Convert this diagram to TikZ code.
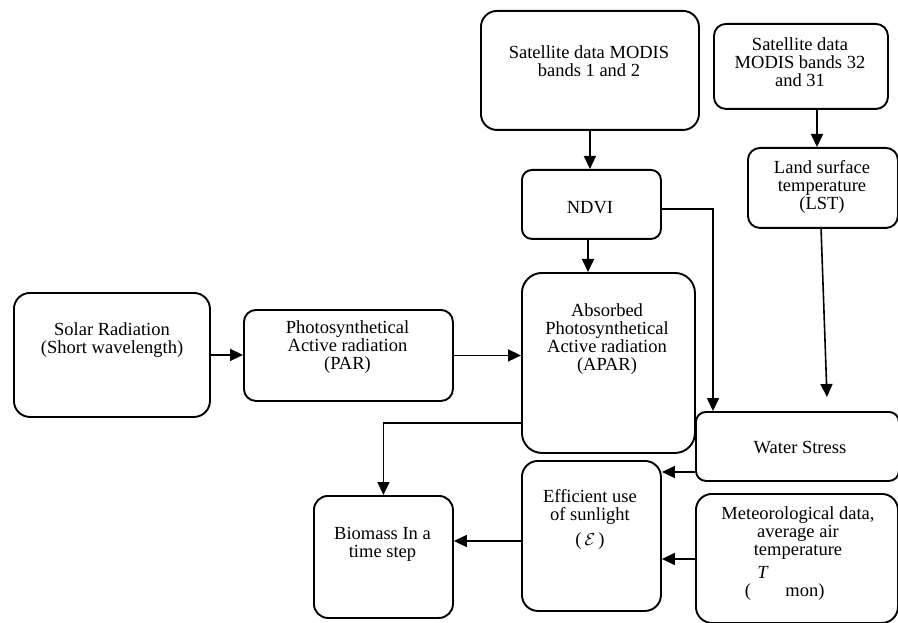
\documentclass[tikz,border=0pt]{standalone}
\usepackage{fontspec}
\setmainfont{Liberation Serif}
\usetikzlibrary{arrows.meta,calc}
\begin{document}
\begin{tikzpicture}[x=1pt,y=-1pt,
  box/.style={draw,line width=1.9pt,rounded corners=#1,anchor=north west,inner sep=0pt},
  box/.default=12pt,
  txt/.style={align=center,inner sep=0pt,font=\fontsize{18.5}{18}\selectfont},
  arr/.style={line width=1.6pt,-{Triangle[length=13pt,width=12pt]}},
  ln/.style={line width=1.6pt}]
\useasboundingbox (0,0) rectangle (898,623);
% boxes
\node[box=16pt,minimum width=218pt,minimum height=119pt] (A) at (480,10) {};
\node[txt] (At) at (589,61) {Satellite data MODIS\\bands 1 and 2};
\node[box=12pt,minimum width=174pt,minimum height=85pt] (B) at (713,23) {};
\node[txt] (Bt) at (800,62) {Satellite data\\MODIS bands 32\\and 31};
\node[box=10pt,minimum width=139pt,minimum height=69pt] (N) at (521,169) {};
\node[txt] (Nt) at (590,208) {NDVI};
\node[box=12pt,minimum width=150pt,minimum height=80pt] (L) at (747,147) {};
\node[txt] (Lt) at (822,187) {Land surface\\temperature\\(LST)};
\node[box=16pt,minimum width=196pt,minimum height=124pt] (S) at (13,292) {};
\node[txt] (St) at (112,340) {Solar Radiation\\(Short wavelength)};
\node[box=12pt,minimum width=209pt,minimum height=91pt] (P) at (243,309) {};
\node[txt] (Pt) at (347.5,347) {Photosynthetical\\Active radiation\\(PAR)};
\node[box=20pt,minimum width=173pt,minimum height=180pt] (AP) at (521,272) {};
\node[txt] (APt) at (607,339) {Absorbed\\Photosynthetical\\Active radiation\\(APAR)};
\node[box=10pt,minimum width=203pt,minimum height=69pt] (W) at (695,411) {};
\node[txt] (Wt) at (800,448) {Water Stress};
\node[box=16pt,minimum width=139pt,minimum height=150pt] (E) at (521,460) {};
\node[txt] (Et) at (590,507) {Efficient use\\of sunlight};
\node[txt] (Ee) at (590,541) {(\,$\mathcal{E}$\,)};
\node[box=16pt,minimum width=202pt,minimum height=129pt] (M) at (695,493) {};
\node[txt] (Mt) at (798,533) {Meteorological data,\\average air\\temperature};
\node[txt,anchor=base] (Mp) at (748,596) {(};
\node[txt,anchor=base] (MT) at (763,578) {\textit{T}};
\node[txt,anchor=base] (Mm) at (805,596) {mon)};
\node[box=14pt,minimum width=139pt,minimum height=122pt] (Bio) at (313,495) {};
\node[txt] (Biot) at (382.5,544) {Biomass In a\\time step};
% helper coordinates
\coordinate (x817) at (817,0);
\coordinate (x713) at (713,0);
\coordinate (x588) at (588,0);
\coordinate (y423) at (0,423);
\coordinate (y472) at (0,472);
\coordinate (y559) at (0,559);
\coordinate (y541) at (0,541);
\coordinate (y209) at (0,209);
\coordinate (Lfrom) at (821,227);
\coordinate (Lto) at (827,397);
% connectors
\draw[arr] (A.south) -- (A.south |- N.north);
\draw[arr] (B.south -| x817) -- (L.north -| x817);
\draw[arr] (N.south -| x588) -- (AP.north -| x588);
\draw[arr] (N.east |- y209) -| (W.north -| x713);
\draw[arr] (Lfrom) -- (Lto);
\draw[arr] (S.east) -- (P.west |- S.east);
\draw[arr] (P.east) -- (AP.west |- P.east);
\draw[arr] (AP.west |- y423) -| (Bio.north);
\draw[arr] (W.west |- y472) -- (E.east |- y472);
\draw[arr] (M.west |- y559) -- (E.east |- y559);
\draw[arr] (E.west |- y541) -- (Bio.east |- y541);
\end{tikzpicture}
\end{document}
